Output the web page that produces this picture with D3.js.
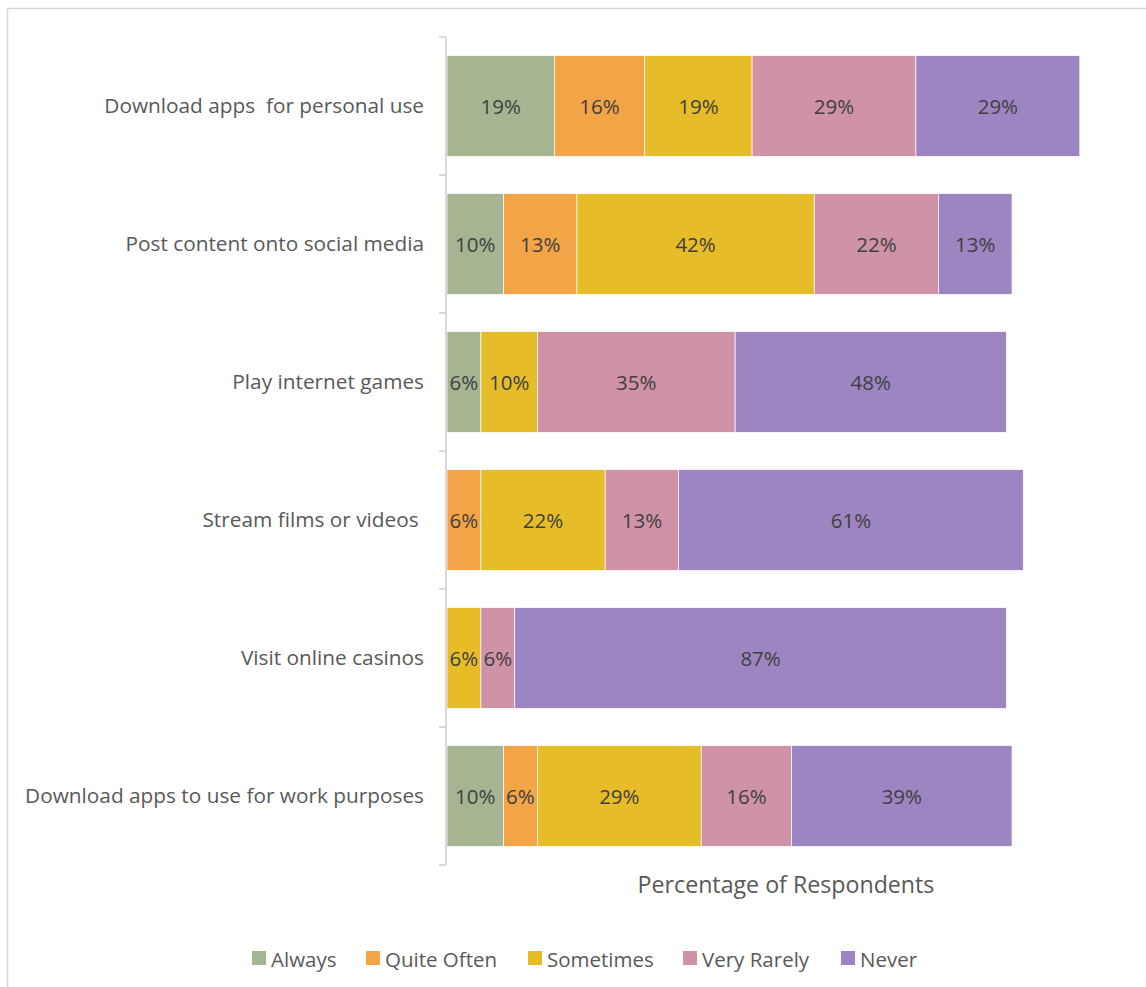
<!DOCTYPE html>
<html>
<head>
<meta charset="utf-8">
<script src="https://cdn.jsdelivr.net/npm/d3@7"></script>
<style>
  html, body { margin: 0; padding: 0; background: #fff; }
  svg { display: block; }
  text { font-family: "Open Sans", sans-serif; fill: #595959; white-space: pre; }
</style>
</head>
<body>
<svg id="chart" width="1146" height="987"></svg>
<script>
// Survey activities (top to bottom) and response frequencies
const activities = [
  "Download apps  for personal use",
  "Post content onto social media",
  "Play internet games",
  "Stream films or videos ",
  "Visit online casinos",
  "Download apps to use for work purposes"
];
const responses = ["Always", "Quite Often", "Sometimes", "Very Rarely", "Never"];

// Percentage of respondents per activity, one array per response
const always     = [19, 10, 6, 0, 0, 10];
const quiteOften = [16, 13, 0, 6, 0, 6];
const sometimes  = [19, 42, 10, 22, 6, 29];
const veryRarely = [29, 22, 35, 13, 6, 16];
const never      = [29, 13, 48, 61, 87, 39];

const colors = ["#a5b592", "#f3a447", "#e7bc29", "#d092a7", "#9c85c0"];
const xMax = 120;

const svg = d3.select("#chart");

// Outer frame (top and left edges)
svg.append("line").attr("x1", 7.5).attr("x2", 1146).attr("y1", 8.5).attr("y2", 8.5)
  .attr("stroke", "#d9d9d9").attr("stroke-width", 1.5);
svg.append("line").attr("x1", 7.5).attr("x2", 7.5).attr("y1", 8.5).attr("y2", 987)
  .attr("stroke", "#d9d9d9").attr("stroke-width", 1.5);

const table = activities.map((a, i) => ({
  activity: a,
  "Always": always[i],
  "Quite Often": quiteOften[i],
  "Sometimes": sometimes[i],
  "Very Rarely": veryRarely[i],
  "Never": never[i]
}));

const x = d3.scaleLinear().domain([0, xMax]).range([447, 1125]);
const y = d3.scaleBand().domain(activities).range([37, 865]).paddingInner(0.27).paddingOuter(0.135);
const color = d3.scaleOrdinal().domain(responses).range(colors);

const stacked = d3.stack().keys(responses)(table);

// Bars
const layers = svg.append("g").selectAll("g").data(stacked).join("g")
  .attr("fill", d => color(d.key));

layers.selectAll("rect")
  .data(d => d.filter(p => p[1] - p[0] > 0))
  .join("rect")
  .attr("x", d => x(d[0]))
  .attr("y", d => y(d.data.activity))
  .attr("width", d => x(d[1]) - x(d[0]))
  .attr("height", y.bandwidth())
  .attr("stroke", "#ffffff")
  .attr("stroke-width", 0.7);

// Value labels
layers.selectAll("text")
  .data(d => d.filter(p => p[1] - p[0] > 0))
  .join("text")
  .attr("x", d => (x(d[0]) + x(d[1])) / 2)
  .attr("y", d => y(d.data.activity) + y.bandwidth() / 2)
  .attr("text-anchor", "middle")
  .attr("dominant-baseline", "central")
  .attr("font-size", 20.5)
  .style("fill", "#404040")
  .text(d => (d[1] - d[0]) + "%");

// Category axis
const yAxis = d3.axisLeft(y).tickSize(0).tickPadding(22);
const yg = svg.append("g").attr("transform", "translate(446,0)").call(yAxis);
yg.select(".domain").remove();
yg.selectAll("text").attr("font-size", 20.8).style("fill", "#595959").attr("dy", "0.32em");

// Axis line with tick marks between categories
const axisCol = "#d9d9d9";
svg.append("line").attr("x1", 446).attr("x2", 446).attr("y1", 37).attr("y2", 865)
  .attr("stroke", axisCol).attr("stroke-width", 2);
const bounds = d3.range(activities.length + 1).map(i => 37 + i * y.step());
svg.append("g").selectAll("line").data(bounds).join("line")
  .attr("x1", 439).attr("x2", 446).attr("y1", d => d).attr("y2", d => d)
  .attr("stroke", axisCol).attr("stroke-width", 2);

// Axis title
svg.append("text")
  .attr("x", (x.range()[0] + x.range()[1]) / 2)
  .attr("y", 893)
  .attr("text-anchor", "middle")
  .attr("font-size", 23.2)
  .text("Percentage of Respondents");

// Legend
const legendX = [252, 366, 528, 683, 841];
const lg = svg.append("g").selectAll("g").data(responses).join("g")
  .attr("transform", (d, i) => `translate(${legendX[i]},951)`);
lg.append("rect").attr("width", 14).attr("height", 14).attr("fill", d => color(d));
lg.append("text").attr("x", 19).attr("y", 7.5).attr("dominant-baseline", "central")
  .attr("font-size", 20.5).text(d => d);
</script>
</body>
</html>
